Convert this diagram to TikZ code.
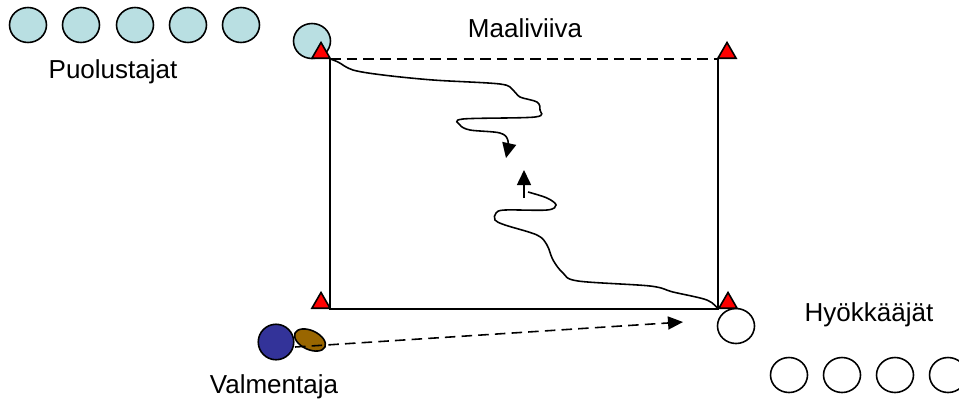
\documentclass[tikz,border=0pt]{standalone}
\usepackage{fontspec}
\setmainfont{Liberation Sans}
\usetikzlibrary{shapes.geometric,arrows.meta}
\definecolor{puolvari}{RGB}{185,223,226}
\definecolor{valmvari}{RGB}{51,51,153}
\definecolor{pallovari}{RGB}{153,102,0}

\begin{document}
\begin{tikzpicture}[x=0.02cm,y=-0.02cm,line width=0.9pt,
		pelaaja/.style={draw,ellipse,minimum width=0.74cm,minimum height=0.70cm,inner sep=0pt},
		kartio/.style={draw,fill=red,regular polygon,regular polygon sides=3,minimum size=0.42cm,inner sep=0pt,anchor=side 2},
		teksti/.style={font=\fontsize{14.8pt}{18pt}\selectfont,anchor=base,inner sep=0pt},
		kulku/.style={-{Triangle[length=0.3cm,width=0.28cm]}},
		katko/.style={dash pattern=on 6pt off 3.5pt}]
		\clip (0,0) rectangle (959,400);
		\coordinate (tl) at (330,59);%maaliviiva vasen
		\coordinate (tr) at (718,59);%maaliviiva oikea
		\coordinate (bl) at (330,309);
		\coordinate (br) at (718,309);
		% puolustajat
		\foreach \x [count=\i] in {28,81,135,188,241}
		\node[pelaaja,fill=puolvari] (p\i) at (\x,25) {};
		\node[pelaaja,fill=puolvari] (p6) at (312,41) {};
		\draw [katko] (tl)--(tr);
		\draw (tr)--(br)--(bl)--(tl);
		% hyokkaajat
		\node[pelaaja,fill=white] (h0) at (736,326) {};
		\foreach \x [count=\i] in {789,842,895,948}
		\node[pelaaja] (h\i) at (\x,375) {};
		% kartiot
		\node[kartio] (k1) at (321,59) {};
		\node[kartio] (k2) at (727,59) {};
		\node[kartio] (k3) at (321,309) {};
		\node[kartio] (k4) at (728,309) {};
		% kuljetukset
		\draw [kulku] plot[smooth,tension=0.55] coordinates {(tl) (338,62) (353,70) (383,75) (433,80) (500,84) (513,90) (520,97) (537,102) (540,110) (535,117) (463,119) (460,125) (470,130) (500,133) (508,141) (506,158)};
		\draw plot[smooth,tension=0.55] coordinates {(br) (707,300) (673,292) (650,286) (578,281) (563,273) (553,260) (547,245) (537,235) (505,225) (495,220) (496,213) (505,210) (547,210) (556,205) (547,198) (528,192)};
		\coordinate (n1) at (524,198);
		\coordinate (n2) at (524,170);
		\draw [kulku] (n1)--(n2);
		% valmentaja
		\node[draw,circle,fill=valmvari,minimum size=0.71cm,inner sep=0pt] (valm) at (276,342) {};
		\node[draw,ellipse,fill=pallovari,minimum width=0.66cm,minimum height=0.38cm,inner sep=0pt,rotate=-25] (pallo) at (310,340) {};
		\coordinate (lahto) at (295,347);
		\coordinate (kohde) at (683,322);
		\draw [katko,-{Triangle[length=0.3cm,width=0.26cm]}] (lahto)--(kohde);
		
		\node[teksti] (puol) at (113,78) {Puolustajat};
		\node[teksti] (maali) at (525,37) {Maaliviiva};
		\node[teksti] (hyok) at (869,321) {Hyökkääjät};
		\node[teksti] (valmt) at (274,393) {Valmentaja};
		\end{tikzpicture}
\end{document}
